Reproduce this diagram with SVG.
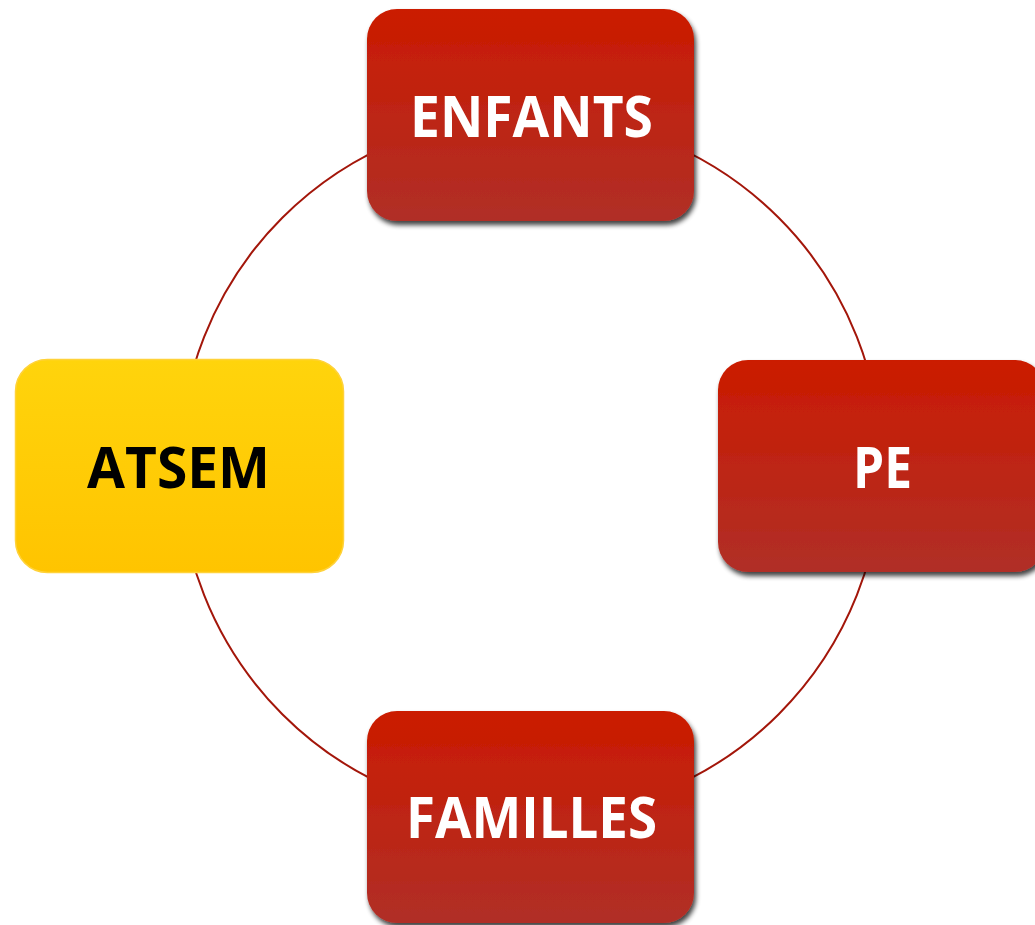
<svg xmlns="http://www.w3.org/2000/svg" width="1035" height="925" viewBox="0 0 1035 925">
<defs>
<linearGradient id="red" x1="0" y1="0" x2="0" y2="1">
<stop offset="0" stop-color="#cb1b00"/>
<stop offset="1" stop-color="#b02f27"/>
</linearGradient>
<linearGradient id="yellow" x1="0" y1="0" x2="0" y2="1">
<stop offset="0" stop-color="#ffd40c"/>
<stop offset="1" stop-color="#ffc400"/>
</linearGradient>
<filter id="shadow" x="-10%" y="-10%" width="125%" height="130%">
<feGaussianBlur in="SourceAlpha" stdDeviation="2.5"/>
<feOffset dx="2" dy="4" result="b"/>
<feComponentTransfer><feFuncA type="linear" slope="0.75"/></feComponentTransfer>
<feMerge><feMergeNode/><feMergeNode in="SourceGraphic"/></feMerge>
</filter>
</defs>
<style>
.red{fill:url(#red);filter:url(#shadow)}
.yel{fill:url(#yellow);stroke:#ffd23a;stroke-width:1.5}
.lbl{font-family:"Open Sans","Liberation Sans",sans-serif;font-weight:700;font-size:57px;text-anchor:middle}
.w{fill:#ffffff}
.k{fill:#000000}
.ring{fill:none;stroke:#a3160a;stroke-width:2}
</style>
<rect width="1035" height="925" fill="#ffffff"/>
<g id="connectors">
<circle class="ring" cx="530.5" cy="466" r="351"/>
</g>
<g id="enfants">
<rect class="red" x="367" y="9" width="327" height="212" rx="30"/>
<text class="lbl w" x="531.5" y="137" textLength="243" lengthAdjust="spacingAndGlyphs">ENFANTS</text>
</g>
<g id="pe">
<rect class="red" x="718" y="360" width="327" height="212" rx="30"/>
<text class="lbl w" x="882.5" y="488" textLength="59" lengthAdjust="spacingAndGlyphs">PE</text>
</g>
<g id="familles">
<rect class="red" x="367" y="711" width="327" height="212" rx="30"/>
<text class="lbl w" x="531.5" y="838" textLength="251" lengthAdjust="spacingAndGlyphs">FAMILLES</text>
</g>
<g id="atsem">
<rect class="yel" x="15.5" y="359.5" width="328" height="213" rx="32"/>
<text class="lbl k" x="178.5" y="488" textLength="183" lengthAdjust="spacingAndGlyphs">ATSEM</text>
</g>
</svg>
